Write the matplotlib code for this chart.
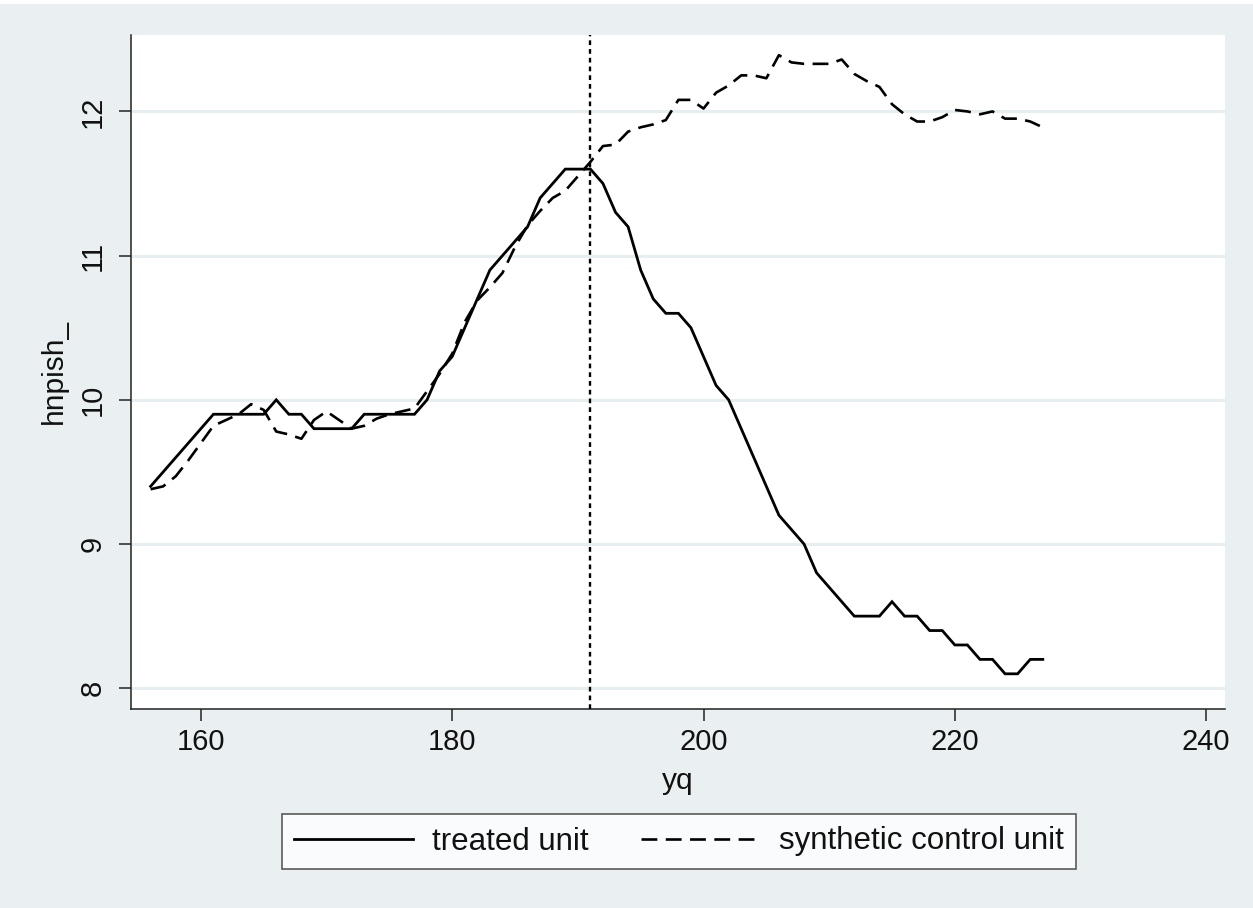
import matplotlib
matplotlib.use("Agg")
import matplotlib.pyplot as plt
from matplotlib.patches import Rectangle

# ---- data ----
yq = list(range(156, 228))
treated = [9.4, 9.5, 9.6, 9.7, 9.8, 9.9, 9.9, 9.9, 9.9, 9.9,
           10.0, 9.9, 9.9, 9.8, 9.8, 9.8, 9.8, 9.9, 9.9, 9.9,
           9.9, 9.9, 10.0, 10.2, 10.3, 10.5, 10.7, 10.9, 11.0, 11.1,
           11.2, 11.4, 11.5, 11.6, 11.6, 11.6, 11.5, 11.3, 11.2, 10.9,
           10.7, 10.6, 10.6, 10.5, 10.3, 10.1, 10.0, 9.8, 9.6, 9.4,
           9.2, 9.1, 9.0, 8.8, 8.7, 8.6, 8.5, 8.5, 8.5, 8.6,
           8.5, 8.5, 8.4, 8.4, 8.3, 8.3, 8.2, 8.2, 8.1, 8.1,
           8.2, 8.2]
synthetic = [9.38, 9.40, 9.47, 9.58, 9.70, 9.82, 9.86, 9.90, 9.97, 9.93,
             9.78, 9.76, 9.73, 9.86, 9.92, 9.86, 9.80, 9.82, 9.87, 9.90,
             9.92, 9.94, 10.06, 10.18, 10.32, 10.54, 10.69, 10.78, 10.88, 11.06,
             11.21, 11.31, 11.40, 11.45, 11.55, 11.65, 11.76, 11.77, 11.86, 11.89,
             11.91, 11.94, 12.08, 12.08, 12.02, 12.13, 12.18, 12.25, 12.25, 12.23,
             12.39, 12.34, 12.33, 12.33, 12.33, 12.36, 12.26, 12.21, 12.17, 12.05,
             11.98, 11.93, 11.93, 11.96, 12.01, 12.00, 11.98, 12.00, 11.95, 11.95,
             11.93, 11.89]
treatment_time = 191
x_ticks = [160, 180, 200, 220, 240]
y_ticks = [8, 9, 10, 11, 12]
series_labels = ["treated unit", "synthetic control unit"]
x_label = "yq"
y_label = "hnpish_"

# ---- style ----
plt.rcParams['font.family'] = ['Liberation Sans', 'DejaVu Sans']
BG = '#eaf0f1'
W, H = 1253, 908
fig = plt.figure(figsize=(W / 100, H / 100), dpi=100, facecolor=BG)

# thin white strip at the very top
fig.patches.append(Rectangle((0, 1 - 4 / H), 1, 4 / H, transform=fig.transFigure,
                             facecolor='white', edgecolor='none', zorder=0))

left, right, top, bottom = 131, 1225, 35, 709
ax = fig.add_axes([left / W, 1 - bottom / H, (right - left) / W, (bottom - top) / H])
ax.set_facecolor('white')

ax.plot(yq, treated, color='black', lw=2.0, solid_joinstyle='miter', label=series_labels[0], zorder=3)
ax.plot(yq, synthetic, color='black', lw=1.9, linestyle=(0, (6.0, 3.2)), label=series_labels[1], zorder=3)
ax.axvline(treatment_time, color='black', lw=1.7, linestyle=(0, (2.0, 1.7)), zorder=4)

ax.set_xlim(154.44, 241.5)
ax.set_ylim(7.856, 12.53)
ax.set_xticks(x_ticks)
ax.set_yticks(y_ticks)

for s in ['top', 'right']:
    ax.spines[s].set_visible(False)
for s in ['left', 'bottom']:
    ax.spines[s].set_color('#222222')
    ax.spines[s].set_linewidth(1.1)

ax.yaxis.grid(True, color='#e6eef0', lw=2.2, zorder=0)
ax.set_axisbelow(True)

ax.tick_params(axis='both', direction='out', length=8.5, width=1.1, color='#222222',
               labelsize=21, labelcolor='#111111')
ax.tick_params(axis='x', pad=5)
ax.tick_params(axis='y', pad=9)
for lbl in ax.get_yticklabels():
    lbl.set_rotation(90)
    lbl.set_va('center')

ax.set_xlabel(x_label, fontsize=21.5, color='#111111', labelpad=8)
ax.set_ylabel(y_label, fontsize=21.5, color='#111111', labelpad=8)

leg = fig.legend(loc='center', bbox_to_anchor=(679 / W, 1 - 841.5 / H), ncol=2,
                 fontsize=22.5, frameon=True, fancybox=False, handlelength=3.8,
                 handletextpad=0.6, columnspacing=1.7, borderpad=0.4,
                 borderaxespad=0)
leg.get_frame().set_edgecolor('#333333')
leg.get_frame().set_linewidth(1.2)
leg.get_frame().set_facecolor('white')
for t in leg.get_texts():
    t.set_color('#111111')

fig.savefig('out.png', dpi=100, facecolor=BG)
